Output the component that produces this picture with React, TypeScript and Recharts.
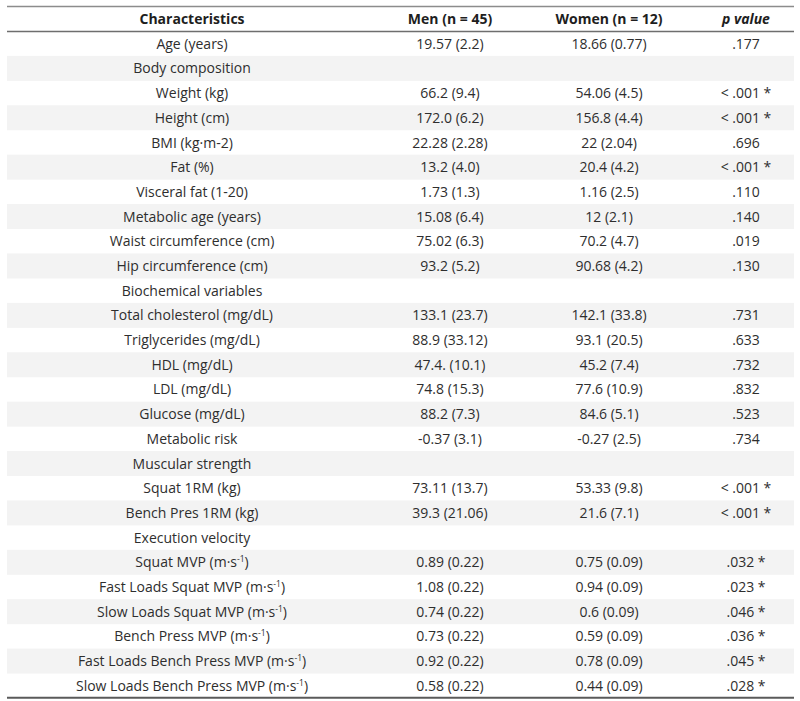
import React from 'react';
import { ComposedChart, Bar, XAxis, YAxis, LabelList } from 'recharts';

const headers = ['Characteristics', 'Men (n = 45)', 'Women (n = 12)', 'p value'];

const characteristics = [
  'Age (years)',
  'Body composition',
  'Weight (kg)',
  'Height (cm)',
  'BMI (kg·m-2)',
  'Fat (%)',
  'Visceral fat (1-20)',
  'Metabolic age (years)',
  'Waist circumference (cm)',
  'Hip circumference (cm)',
  'Biochemical variables',
  'Total cholesterol (mg/dL)',
  'Triglycerides (mg/dL)',
  'HDL (mg/dL)',
  'LDL (mg/dL)',
  'Glucose (mg/dL)',
  'Metabolic risk',
  'Muscular strength',
  'Squat 1RM (kg)',
  'Bench Pres 1RM (kg)',
  'Execution velocity',
  'Squat MVP (m·s⁻¹)',
  'Fast Loads Squat MVP (m·s⁻¹)',
  'Slow Loads Squat MVP (m·s⁻¹)',
  'Bench Press MVP (m·s⁻¹)',
  'Fast Loads Bench Press MVP (m·s⁻¹)',
  'Slow Loads Bench Press MVP (m·s⁻¹)',
];

const menValues = [
  '19.57 (2.2)', '', '66.2 (9.4)', '172.0 (6.2)', '22.28 (2.28)', '13.2 (4.0)',
  '1.73 (1.3)', '15.08 (6.4)', '75.02 (6.3)', '93.2 (5.2)', '', '133.1 (23.7)',
  '88.9 (33.12)', '47.4. (10.1)', '74.8 (15.3)', '88.2 (7.3)', '-0.37 (3.1)', '',
  '73.11 (13.7)', '39.3 (21.06)', '', '0.89 (0.22)', '1.08 (0.22)', '0.74 (0.22)',
  '0.73 (0.22)', '0.92 (0.22)', '0.58 (0.22)',
];

const womenValues = [
  '18.66 (0.77)', '', '54.06 (4.5)', '156.8 (4.4)', '22 (2.04)', '20.4 (4.2)',
  '1.16 (2.5)', '12 (2.1)', '70.2 (4.7)', '90.68 (4.2)', '', '142.1 (33.8)',
  '93.1 (20.5)', '45.2 (7.4)', '77.6 (10.9)', '84.6 (5.1)', '-0.27 (2.5)', '',
  '53.33 (9.8)', '21.6 (7.1)', '', '0.75 (0.09)', '0.94 (0.09)', '0.6 (0.09)',
  '0.59 (0.09)', '0.78 (0.09)', '0.44 (0.09)',
];

const pValues = [
  '.177', '', '< .001 *', '< .001 *', '.696', '< .001 *', '.110', '.140', '.019',
  '.130', '', '.731', '.633', '.732', '.832', '.523', '.734', '', '< .001 *',
  '< .001 *', '', '.032 *', '.023 *', '.046 *', '.036 *', '.045 *', '.028 *',
];

const rows = [
  { key: 'h', label: headers[0], men: headers[1], women: headers[2], p: headers[3], band: 1, shaded: false },
  ...characteristics.map((c, i) => ({
    key: 'r' + i,
    label: c,
    men: menValues[i],
    women: womenValues[i],
    p: pValues[i],
    band: 1,
    shaded: i % 2 === 1,
  })),
];

const FONT = '"Open Sans", "Noto Sans", sans-serif';
const colCenters = [0.2351, 0.5629, 0.765, 0.939];

const BandShape = (props: any) => {
  const { x, y, width, height, index } = props;
  const row = rows[index];
  const last = index === rows.length - 1;
  return (
    <g>
      {row.shaded && <rect x={x} y={y} width={width} height={height} fill="#f3f3f3" />}
      {index === 0 && (
        <>
          <line x1={x} x2={x + width} y1={y} y2={y} stroke="#8c8c8c" strokeWidth={1.5} />
          <line x1={x} x2={x + width} y1={y + height} y2={y + height} stroke="#6e6e6e" strokeWidth={1.3} />
        </>
      )}
      {last && <line x1={x} x2={x + width} y1={y + height - 0.5} y2={y + height - 0.5} stroke="#5a5a5a" strokeWidth={2} />}
    </g>
  );
};

const renderText = (col: number) => (props: any) => {
  const { x, y, width, height, value, index } = props;
  if (value === undefined || value === null || value === '') return null;
  const cx = x + width * colCenters[col];
  const cy = y + height / 2;
  const isHeader = index === 0;
  const s = String(value);
  const parts = s.split('⁻¹');
  return (
    <text
      x={cx}
      y={cy}
      dy="0.36em"
      textAnchor="middle"
      fontFamily={FONT}
      fontSize={14}
      fontWeight={isHeader ? 700 : 400}
      fontStyle={isHeader && col === 3 ? 'italic' : 'normal'}
      fill={isHeader ? '#1e1e1e' : '#2e2e2e'}
    >
      {parts.length > 1 ? (
        <>
          <tspan>{parts[0]}</tspan>
          <tspan dy={-5} fontSize={8.5}>-1</tspan>
          <tspan dy={5}>{parts[1]}</tspan>
        </>
      ) : (
        s
      )}
    </text>
  );
};

export default function App() {
  return (
    <div style={{ position: 'absolute', left: 0, top: 0, background: '#fff' }}>
      <ComposedChart
        width={800}
        height={701}
        data={rows}
        layout="vertical"
        margin={{ top: 6.5, right: 6, bottom: 3, left: 7 }}
        barCategoryGap={0}
        barGap={0}
      >
        <XAxis type="number" domain={[0, 1]} hide />
        <YAxis type="category" dataKey="key" hide />
        <Bar dataKey="band" isAnimationActive={false} shape={BandShape}>
          <LabelList dataKey="label" content={renderText(0)} />
          <LabelList dataKey="men" content={renderText(1)} />
          <LabelList dataKey="women" content={renderText(2)} />
          <LabelList dataKey="p" content={renderText(3)} />
        </Bar>
      </ComposedChart>
    </div>
  );
}
